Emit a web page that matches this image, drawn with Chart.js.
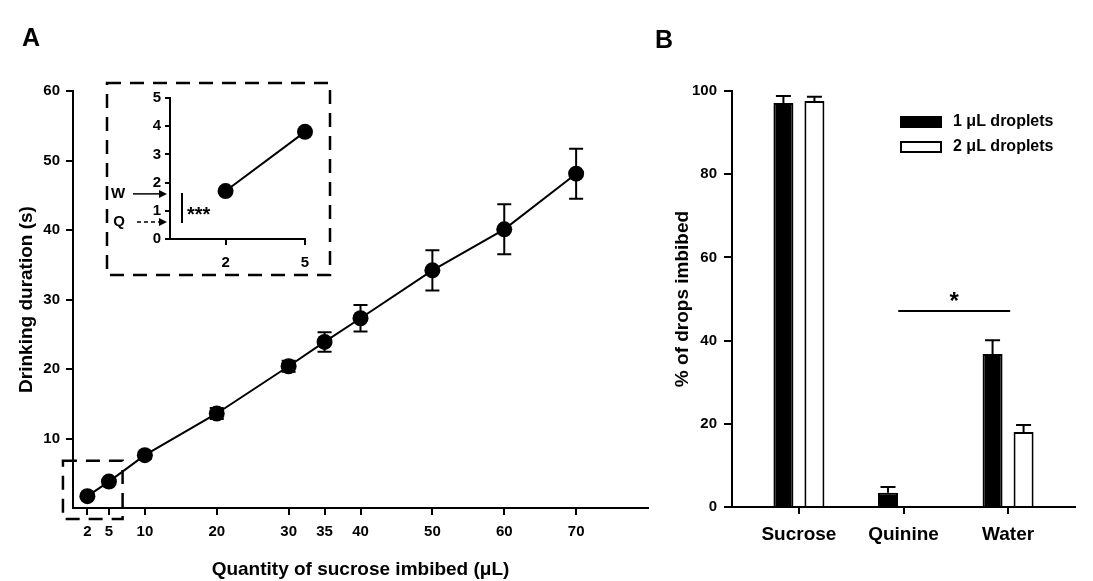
<!DOCTYPE html>
<html><head><meta charset="utf-8">
<script src="https://cdn.jsdelivr.net/npm/chart.js@4/dist/chart.umd.min.js"></script>
<style>
html,body{margin:0;padding:0;background:#fff;}
#wrap{position:relative;width:1093px;height:581px;overflow:hidden;background:#fff;}
canvas{position:absolute;left:0;top:0;}
.panel{position:absolute;font:bold 25px "Liberation Sans", Arial, sans-serif;line-height:1;color:#000;}
</style></head><body>
<div id="wrap">
<canvas id="cA" width="1093" height="581"></canvas>
<canvas id="cIn" width="1093" height="581"></canvas>
<canvas id="cB" width="1093" height="581"></canvas>
<div class="panel" style="left:22px;top:25px">A</div>
<div class="panel" style="left:655px;top:27px">B</div>
</div>
<script>
// ---------- data ----------
const doseX = [2, 5, 10, 20, 30, 35, 40, 50, 60, 70];
const durationMean = [1.7, 3.8, 7.6, 13.6, 20.4, 23.9, 27.3, 34.2, 40.1, 48.1];
const durationSem = [0.3, 0.3, 0.5, 0.8, 0.8, 1.4, 1.9, 2.9, 3.6, 3.6];
const doseTicks = [2, 5, 10, 20, 30, 35, 40, 50, 60, 70];
const durationTicks = [10, 20, 30, 40, 50, 60];

const insetX = [2, 5];
const insetMean = [1.7, 3.8];
const insetTicksX = [2, 5];
const insetTicksY = [0, 1, 2, 3, 4, 5];
const waterLevel = 1.6;
const quinineLevel = 0.6;

const categories = ['Sucrose', 'Quinine', 'Water'];
const drop1Mean = [97.1, 3.4, 36.8];
const drop1Sem = [1.7, 1.4, 3.3];
const drop2Mean = [97.6, 0, 18.0];
const drop2Sem = [1.0, 0, 1.7];
const percentTicks = [0, 20, 40, 60, 80, 100];
const sigFrom = 0.95, sigTo = 2.02, sigLevel = 47.1;

// ---------- common ----------
const FONT = '"Liberation Sans", Arial, sans-serif';
Chart.defaults.font.family = FONT;
Chart.defaults.font.weight = 'bold';
Chart.defaults.color = '#000';
const DASH = [14, 9];

function gridOpts(len) {
  return { drawOnChartArea: false, drawTicks: true, tickLength: len, color: '#000', lineWidth: 2, offset: false };
}
const borderOpts = { display: true, color: '#000', width: 2 };

const errorBars = {
  id: 'errorBars',
  beforeDatasetsDraw(chart, args, o) { if (o.when === 'before') drawErr(chart, o); },
  afterDatasetsDraw(chart, args, o) { if (o.when === 'after') drawErr(chart, o); }
};
function drawErr(chart, o) {
  const ctx = chart.ctx, ys = chart.scales.y;
  ctx.save();
  ctx.strokeStyle = '#000'; ctx.lineWidth = 2; ctx.setLineDash([]);
  chart.data.datasets.forEach((ds, di) => {
    if (!ds.errors) return;
    const meta = chart.getDatasetMeta(di);
    meta.data.forEach((el, i) => {
      const e = ds.errors[i];
      if (!e) return;
      const v = ds.data[i].y;
      const x = el.x;
      const yt = ys.getPixelForValue(v + e);
      const yb = o.upOnly ? ys.getPixelForValue(v) : ys.getPixelForValue(v - e);
      ctx.beginPath();
      ctx.moveTo(x, yt); ctx.lineTo(x, yb);
      ctx.moveTo(x - o.cap, yt); ctx.lineTo(x + o.cap, yt);
      if (!o.upOnly) { ctx.moveTo(x - o.cap, yb); ctx.lineTo(x + o.cap, yb); }
      ctx.stroke();
    });
  });
  ctx.restore();
}

// ---------- panel A main ----------
const zoomBox = { xMin: -1.4, xMax: 6.9, yMin: -1.6, yMax: 6.8 };
const zoomBoxPlugin = {
  id: 'zoomBoxPlugin',
  afterDraw(chart) {
    const { ctx, scales: { x, y } } = chart;
    const l = x.getPixelForValue(zoomBox.xMin), r = x.getPixelForValue(zoomBox.xMax);
    const t = y.getPixelForValue(zoomBox.yMax), b = y.getPixelForValue(zoomBox.yMin);
    ctx.save();
    ctx.strokeStyle = '#000'; ctx.lineWidth = 2.5; ctx.setLineDash(DASH);
    ctx.strokeRect(l, t, r - l, b - t);
    ctx.restore();
  }
};

new Chart(document.getElementById('cA'), {
  type: 'line',
  data: { datasets: [{
    data: doseX.map((x, i) => ({ x, y: durationMean[i] })),
    errors: durationSem, clip: false,
    borderColor: '#000', borderWidth: 2, tension: 0,
    pointRadius: 8, pointBackgroundColor: '#000', pointBorderColor: '#000', pointBorderWidth: 0
  }]},
  options: {
    responsive: false, animation: false, devicePixelRatio: 1,
    layout: { padding: { left: 0, top: 91, right: 445, bottom: 0 } },
    plugins: { legend: { display: false }, tooltip: { enabled: false }, errorBars: { when: 'before', cap: 7, upOnly: false } },
    scales: {
      x: {
        type: 'linear', min: 0, max: 80,
        afterBuildTicks: s => { s.ticks = doseTicks.map(v => ({ value: v })); },
        afterFit: s => { s.height = 73; },
        grid: gridOpts(7), border: borderOpts,
        ticks: { font: { size: 15, weight: 'bold' }, color: '#000', padding: 8, autoSkip: false, maxRotation: 0 },
        title: { display: true, text: 'Quantity of sucrose imbibed (μL)', font: { size: 19, weight: 'bold' }, color: '#000', padding: { top: 0, bottom: 0 } }
      },
      y: {
        type: 'linear', min: 0, max: 60,
        afterBuildTicks: s => { s.ticks = durationTicks.map(v => ({ value: v })); },
        afterFit: s => { s.width = 73; },
        grid: gridOpts(7), border: borderOpts,
        ticks: { font: { size: 15, weight: 'bold' }, color: '#000', padding: 6 },
        title: { display: true, text: 'Drinking duration (s)', font: { size: 19, weight: 'bold' }, color: '#000', padding: { top: 15, bottom: 0 } }
      }
    }
  },
  plugins: [errorBars, zoomBoxPlugin]
});

// ---------- panel A inset ----------
function arrow(ctx, x0, x1, yy, dashed) {
  ctx.save();
  ctx.strokeStyle = '#000'; ctx.fillStyle = '#000'; ctx.lineWidth = 1.5;
  ctx.setLineDash(dashed ? [4, 3] : []);
  ctx.beginPath(); ctx.moveTo(x0, yy); ctx.lineTo(x1 - 7, yy); ctx.stroke();
  ctx.setLineDash([]);
  ctx.beginPath(); ctx.moveTo(x1, yy); ctx.lineTo(x1 - 8, yy - 4); ctx.lineTo(x1 - 8, yy + 4); ctx.closePath(); ctx.fill();
  ctx.restore();
}
const insetMarks = {
  id: 'insetMarks',
  afterDraw(chart) {
    const { ctx, chartArea: ca, scales: { y } } = chart;
    ctx.save();
    ctx.strokeStyle = '#000'; ctx.lineWidth = 2.5; ctx.setLineDash(DASH);
    const l = ca.left - 63, t = ca.top - 15, r = ca.right + 25, b = ca.bottom + 36;
    ctx.strokeRect(l, t, r - l, b - t);
    ctx.restore();

    const yW = y.getPixelForValue(waterLevel), yQ = y.getPixelForValue(quinineLevel);
    arrow(ctx, ca.left - 37, ca.left - 3, yW, false);
    arrow(ctx, ca.left - 33, ca.left - 3, yQ, true);
    ctx.save();
    ctx.fillStyle = '#000';
    ctx.font = 'bold 15px ' + FONT;
    ctx.textAlign = 'center'; ctx.textBaseline = 'middle';
    ctx.fillText('W', ca.left - 52, yW);
    ctx.fillText('Q', ca.left - 51, yQ);
    ctx.strokeStyle = '#000'; ctx.lineWidth = 2;
    ctx.beginPath(); ctx.moveTo(ca.left + 12, yW - 1); ctx.lineTo(ca.left + 12, yQ + 1); ctx.stroke();
    ctx.font = 'bold 20px ' + FONT;
    ctx.textAlign = 'left'; ctx.textBaseline = 'alphabetic';
    ctx.fillText('***', ca.left + 17, (yW + yQ) / 2 + 13);
    ctx.restore();
  }
};

new Chart(document.getElementById('cIn'), {
  type: 'line',
  data: { datasets: [{
    data: insetX.map((x, i) => ({ x, y: insetMean[i] })),
    clip: false,
    borderColor: '#000', borderWidth: 2, tension: 0,
    pointRadius: 8, pointBackgroundColor: '#000', pointBorderColor: '#000', pointBorderWidth: 0
  }]},
  options: {
    responsive: false, animation: false, devicePixelRatio: 1,
    layout: { padding: { left: 140, top: 98, right: 788, bottom: 302 } },
    plugins: { legend: { display: false }, tooltip: { enabled: false } },
    scales: {
      x: {
        type: 'linear', min: -0.1, max: 5,
        afterBuildTicks: s => { s.ticks = insetTicksX.map(v => ({ value: v })); },
        afterFit: s => { s.height = 40; },
        grid: gridOpts(6), border: borderOpts,
        ticks: { font: { size: 15, weight: 'bold' }, color: '#000', padding: 9, autoSkip: false, maxRotation: 0 }
      },
      y: {
        type: 'linear', min: 0, max: 5,
        afterBuildTicks: s => { s.ticks = insetTicksY.map(v => ({ value: v })); },
        afterFit: s => { s.width = 30; },
        grid: gridOpts(5), border: borderOpts,
        ticks: { font: { size: 15, weight: 'bold' }, color: '#000', padding: 4 }
      }
    }
  },
  plugins: [insetMarks]
});

// ---------- panel B ----------
const barMarks = {
  id: 'barMarks',
  afterDraw(chart) {
    const { ctx, chartArea: ca, scales: { x, y } } = chart;
    ctx.save();
    const ly = y.getPixelForValue(sigLevel);
    ctx.strokeStyle = '#000'; ctx.lineWidth = 2;
    ctx.beginPath(); ctx.moveTo(x.getPixelForValue(sigFrom), ly); ctx.lineTo(x.getPixelForValue(sigTo), ly); ctx.stroke();
    ctx.fillStyle = '#000';
    ctx.font = 'bold 24px ' + FONT;
    ctx.textAlign = 'center'; ctx.textBaseline = 'alphabetic';
    ctx.fillText('*', x.getPixelForValue((sigFrom + sigTo) / 2), ly - 2);
    const lx = ca.right - 175, ly0 = ca.top + 25;
    chart.data.datasets.forEach((ds, i) => {
      const yy = ly0 + i * 25;
      ctx.fillStyle = ds.backgroundColor;
      ctx.fillRect(lx, yy, 42, 12);
      ctx.strokeStyle = '#000'; ctx.lineWidth = 2;
      ctx.strokeRect(lx + 1, yy + 1, 40, 10);
      ctx.fillStyle = '#000';
      ctx.font = 'bold 16px ' + FONT;
      ctx.textAlign = 'left'; ctx.textBaseline = 'middle';
      ctx.fillText(ds.label, lx + 53, yy + 6);
    });
    ctx.restore();
  }
};

new Chart(document.getElementById('cB'), {
  type: 'bar',
  data: { datasets: [
    { label: '1 μL droplets', data: categories.map((c, i) => ({ x: i, y: drop1Mean[i] })), errors: drop1Sem,
      backgroundColor: '#000', borderColor: '#000', borderWidth: 2 },
    { label: '2 μL droplets', data: categories.map((c, i) => ({ x: i, y: drop2Mean[i] })), errors: drop2Sem,
      backgroundColor: '#fff', borderColor: '#000', borderWidth: 2 }
  ]},
  options: {
    responsive: false, animation: false, devicePixelRatio: 1,
    datasets: { bar: { categoryPercentage: 0.593, barPercentage: 0.645 } },
    layout: { padding: { left: 665, top: 91, right: 18, bottom: 0 } },
    plugins: { legend: { display: false }, tooltip: { enabled: false }, errorBars: { when: 'after', cap: 7.5, upOnly: true } },
    scales: {
      x: {
        type: 'linear', min: -0.64, max: 2.64, offset: false,
        afterBuildTicks: s => { s.ticks = categories.map((c, i) => ({ value: i })); },
        afterFit: s => { s.height = 74; },
        grid: gridOpts(7), border: borderOpts,
        ticks: { font: { size: 19, weight: 'bold' }, color: '#000', padding: 9, autoSkip: false, maxRotation: 0,
                 callback: v => categories[Math.round(v)] }
      },
      y: {
        type: 'linear', min: 0, max: 100,
        afterBuildTicks: s => { s.ticks = percentTicks.map(v => ({ value: v })); },
        afterFit: s => { s.width = 67; },
        grid: gridOpts(8), border: borderOpts,
        ticks: { font: { size: 15, weight: 'bold' }, color: '#000', padding: 7 },
        title: { display: true, text: '% of drops imbibed', font: { size: 19, weight: 'bold' }, color: '#000', padding: { top: 6, bottom: 0 } }
      }
    }
  },
  plugins: [errorBars, barMarks]
});
</script>
</body></html>
